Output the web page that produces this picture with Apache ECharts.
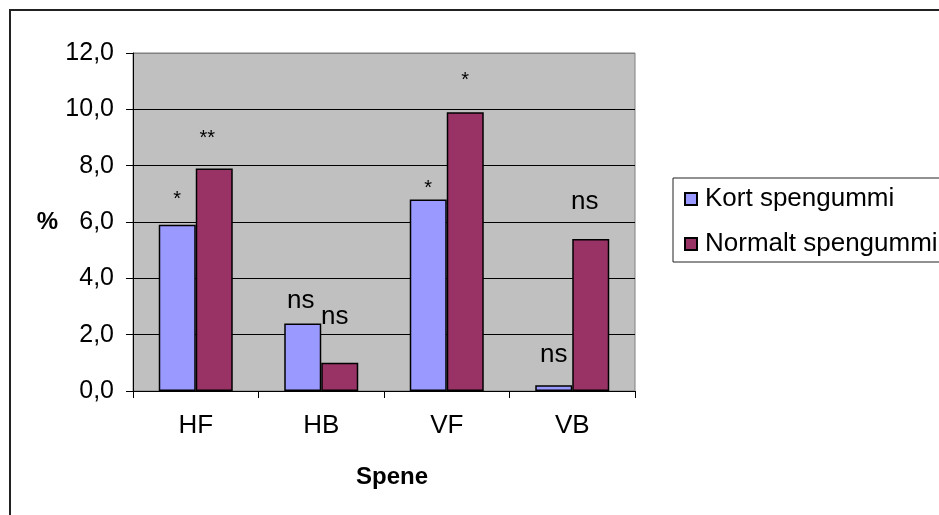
<!DOCTYPE html>
<html>
<head>
<meta charset="utf-8">
<script src="https://cdn.jsdelivr.net/npm/echarts@6/dist/echarts.min.js"></script>
<style>
  html, body { margin: 0; padding: 0; background: #fff; }
  #chart { width: 939px; height: 515px; }
</style>
</head>
<body>
<div id="chart"></div>
<script>
  // data
  var categories = ['HF', 'HB', 'VF', 'VB'];
  var seriesNames = ['Kort spengummi', 'Normalt spengummi'];
  var kortValues = [5.9, 2.4, 6.8, 0.2];
  var normaltValues = [7.9, 1.0, 9.9, 5.4];
  var kortMarks = ['*', 'ns', '*', 'ns'];
  var normaltMarks = ['**', 'ns', '*', 'ns'];
  var yTicks = { min: 0, max: 12, interval: 2 };

  // label nudges (px) for the significance marks
  var kortOffsets = [[0, -15], [-2, -10], [0, -1], [0, -18]];
  var normaltOffsets = [[-7, -20], [-5, -33], [0, -22], [-6, -24]];

  var fontFamily = 'Liberation Sans, Arial, sans-serif';
  var colors = ['#9999FF', '#993366'];

  function buildData(values, marks, offsets) {
    return values.map(function (v, i) {
      return {
        value: v,
        label: {
          formatter: marks[i],
          fontSize: marks[i] === 'ns' ? 26 : 20,
          offset: offsets[i]
        }
      };
    });
  }

  function barSeries(name, values, marks, offsets, color) {
    return {
      name: name,
      type: 'bar',
      barWidth: 37,
      barGap: '0%',
      itemStyle: {
        color: color,
        borderColor: '#000',
        borderWidth: 1.5
      },
      label: {
        show: true,
        position: 'top',
        distance: 0,
        color: '#000',
        fontFamily: fontFamily
      },
      emphasis: { disabled: true },
      data: buildData(values, marks, offsets)
    };
  }

  var chart = echarts.init(document.getElementById('chart'));
  chart.setOption({
    animation: false,
    backgroundColor: '#fff',
    textStyle: { fontFamily: fontFamily, color: '#000' },
    graphic: [{
      type: 'rect',
      shape: { x: 10, y: 10, width: 1000, height: 1000 },
      style: { fill: 'none', stroke: '#222', lineWidth: 2 },
      z: 100
    }],
    grid: {
      show: true,
      left: 133,
      right: 304,
      top: 53,
      bottom: 124,
      backgroundColor: '#C0C0C0',
      borderColor: '#808080',
      borderWidth: 1
    },
    legend: {
      orient: 'vertical',
      left: 673,
      top: 178,
      padding: [8, 40, 5, 11],
      itemWidth: 12,
      itemHeight: 12,
      itemGap: 19,
      backgroundColor: '#fff',
      borderColor: '#222',
      borderWidth: 1,
      icon: 'rect',
      textStyle: { fontSize: 26, color: '#000', fontFamily: fontFamily, padding: [0, 0, 0, 3] },
      data: seriesNames
    },
    xAxis: {
      type: 'category',
      data: categories,
      name: 'Spene',
      nameLocation: 'middle',
      nameGap: 74,
      nameTextStyle: { fontSize: 24, fontWeight: 'bold', color: '#000', padding: [0, 0, 0, 16] },
      axisLine: { lineStyle: { color: '#000', width: 1 } },
      axisTick: { show: true, length: 7, lineStyle: { color: '#000' } },
      axisLabel: { fontSize: 26, color: '#000', margin: 22 },
      splitLine: { show: false }
    },
    yAxis: {
      type: 'value',
      min: yTicks.min,
      max: yTicks.max,
      interval: yTicks.interval,
      name: '%',
      nameLocation: 'middle',
      nameRotate: 0,
      nameGap: 75,
      nameTextStyle: { fontSize: 24, fontWeight: 'bold', color: '#000' },
      axisLine: { show: true, lineStyle: { color: '#000', width: 1 } },
      axisTick: { show: true, length: 7, lineStyle: { color: '#000' } },
      axisLabel: {
        fontSize: 25,
        color: '#000',
        margin: 19,
        formatter: function (v) { return v.toFixed(1).replace('.', ','); }
      },
      splitLine: {
        show: true,
        lineStyle: { color: ['#000', '#000', '#000', '#000', '#000', '#000', '#808080'], width: 1 }
      }
    },
    series: [
      barSeries(seriesNames[0], kortValues, kortMarks, kortOffsets, colors[0]),
      barSeries(seriesNames[1], normaltValues, normaltMarks, normaltOffsets, colors[1])
    ]
  });
</script>
</body>
</html>
